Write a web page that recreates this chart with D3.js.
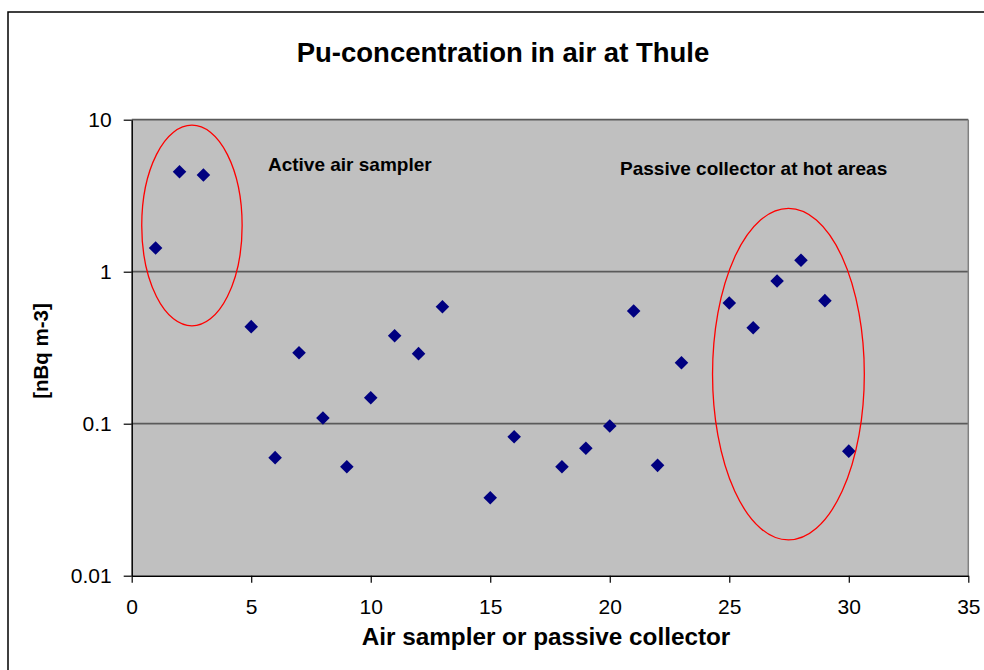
<!DOCTYPE html>
<html>
<head>
<meta charset="utf-8">
<script src="https://cdn.jsdelivr.net/npm/d3@7"></script>
<style>
  body { margin: 0; background: #fff; }
  svg { display: block; font-family: "Liberation Sans", Arial, sans-serif; }
</style>
</head>
<body>
<script>
// collector number and Pu concentration (nBq m-3)
var samplers = [1, 2, 3, 5, 6, 7, 8, 9, 10, 11, 12, 13, 15, 16, 18, 19, 20, 21, 22, 23, 25, 26, 27, 28, 29, 30];
var concentrations = [1.43, 4.55, 4.33, 0.435, 0.0598, 0.293, 0.109, 0.0521, 0.148, 0.379, 0.289, 0.588,
  0.0326, 0.082, 0.0521, 0.0689, 0.0966, 0.551, 0.0532, 0.252, 0.622, 0.428, 0.868, 1.19, 0.645, 0.066];
var xTicks = [0, 5, 10, 15, 20, 25, 30, 35];
var yTicks = [0.01, 0.1, 1, 10];
var yTickLabels = ["0.01", "0.1", "1", "10"];

// groups circled on the chart, in data units
var groupLabels = ["Active air sampler", "Passive collector at hot areas"];
var groupLabelX = [5.7, 20.43];
var groupLabelY = [4.6, 4.33];
var groupX = [[0.42, 4.62], [24.3, 30.65]];
var groupY = [[9.2, 0.44], [2.61, 0.0172]];

var data = samplers.map(function (s, i) { return { n: s, v: concentrations[i] }; });

var margin = { top: 119.7, right: 15.7, bottom: 94.3, left: 131.7 };
var W = 984, H = 670;
var width = W - margin.left - margin.right;
var height = H - margin.top - margin.bottom;

var svg = d3.select("body").append("svg")
  .attr("width", W)
  .attr("height", H);

// outer chart frame (runs off the right and bottom edges)
svg.append("rect")
  .attr("x", 8).attr("y", 12)
  .attr("width", W + 10).attr("height", H + 10)
  .attr("fill", "#fff")
  .attr("stroke", "#000")
  .attr("stroke-width", 1.5);

svg.append("text")
  .attr("x", 503).attr("y", 62)
  .attr("text-anchor", "middle")
  .attr("font-size", 27.5)
  .attr("font-weight", "bold")
  .text("Pu-concentration in air at Thule");

var g = svg.append("g")
  .attr("transform", "translate(" + margin.left + "," + margin.top + ")");

var x = d3.scaleLinear().domain([0, 35]).range([0, width]);
var y = d3.scaleLog().domain([0.01, 10]).range([height, 0]);

g.append("rect")
  .attr("width", width).attr("height", height)
  .attr("fill", "#c0c0c0");

// gridlines
g.selectAll(".grid").data(yTicks.slice(1)).enter().append("line")
  .attr("x1", 0).attr("x2", width)
  .attr("y1", function (d) { return y(d); })
  .attr("y2", function (d) { return y(d); })
  .attr("stroke", "#5a5a5a")
  .attr("stroke-width", 1.8);

g.append("line")
  .attr("x1", width).attr("x2", width)
  .attr("y1", 0).attr("y2", height)
  .attr("stroke", "#808080")
  .attr("stroke-width", 1.5);

var xAxis = d3.axisBottom(x).tickValues(xTicks).tickSize(7).tickSizeOuter(0).tickPadding(16);
var yAxis = d3.axisLeft(y).tickValues(yTicks).tickSize(8).tickSizeOuter(0).tickPadding(12)
  .tickFormat(function (d, i) { return yTickLabels[i]; });

var gx = g.append("g")
  .attr("transform", "translate(0," + height + ")")
  .call(xAxis);
var gy = g.append("g").call(yAxis);

[gx, gy].forEach(function (ax) {
  ax.select(".domain").attr("stroke", "#000").attr("stroke-width", 1.5);
  ax.selectAll(".tick line").attr("stroke", "#000").attr("stroke-width", 1.2);
  ax.selectAll(".tick text")
    .attr("fill", "#000")
    .attr("font-size", 21)
    .attr("font-family", "Liberation Sans, Arial, sans-serif");
});

// points
g.selectAll(".pt").data(data).enter().append("path")
  .attr("class", "pt")
  .attr("d", d3.symbol(d3.symbolSquare).size(92))
  .attr("transform", function (d) {
    return "translate(" + x(d.n) + "," + y(d.v) + ") rotate(45)";
  })
  .attr("fill", "#000080");

// circled groups
groupX.forEach(function (gxr, i) {
  var x0 = x(gxr[0]), x1 = x(gxr[1]);
  var y0 = y(groupY[i][0]), y1 = y(groupY[i][1]);
  g.append("ellipse")
    .attr("cx", (x0 + x1) / 2)
    .attr("cy", (y0 + y1) / 2)
    .attr("rx", (x1 - x0) / 2)
    .attr("ry", (y1 - y0) / 2)
    .attr("fill", "none")
    .attr("stroke", "#ff0000")
    .attr("stroke-width", 1.3);
});

g.selectAll(".note").data(groupLabels).enter().append("text")
  .attr("x", function (d, i) { return x(groupLabelX[i]); })
  .attr("y", function (d, i) { return y(groupLabelY[i]); })
  .attr("font-size", 19)
  .attr("font-weight", "bold")
  .text(function (d) { return d; });

// axis titles
svg.append("text")
  .attr("x", 546).attr("y", 645)
  .attr("text-anchor", "middle")
  .attr("font-size", 24.3)
  .attr("font-weight", "bold")
  .text("Air sampler or passive collector");

svg.append("text")
  .attr("transform", "translate(48,351) rotate(-90)")
  .attr("text-anchor", "middle")
  .attr("font-size", 20.5)
  .attr("font-weight", "bold")
  .text("[nBq m-3]");
</script>
</body>
</html>
